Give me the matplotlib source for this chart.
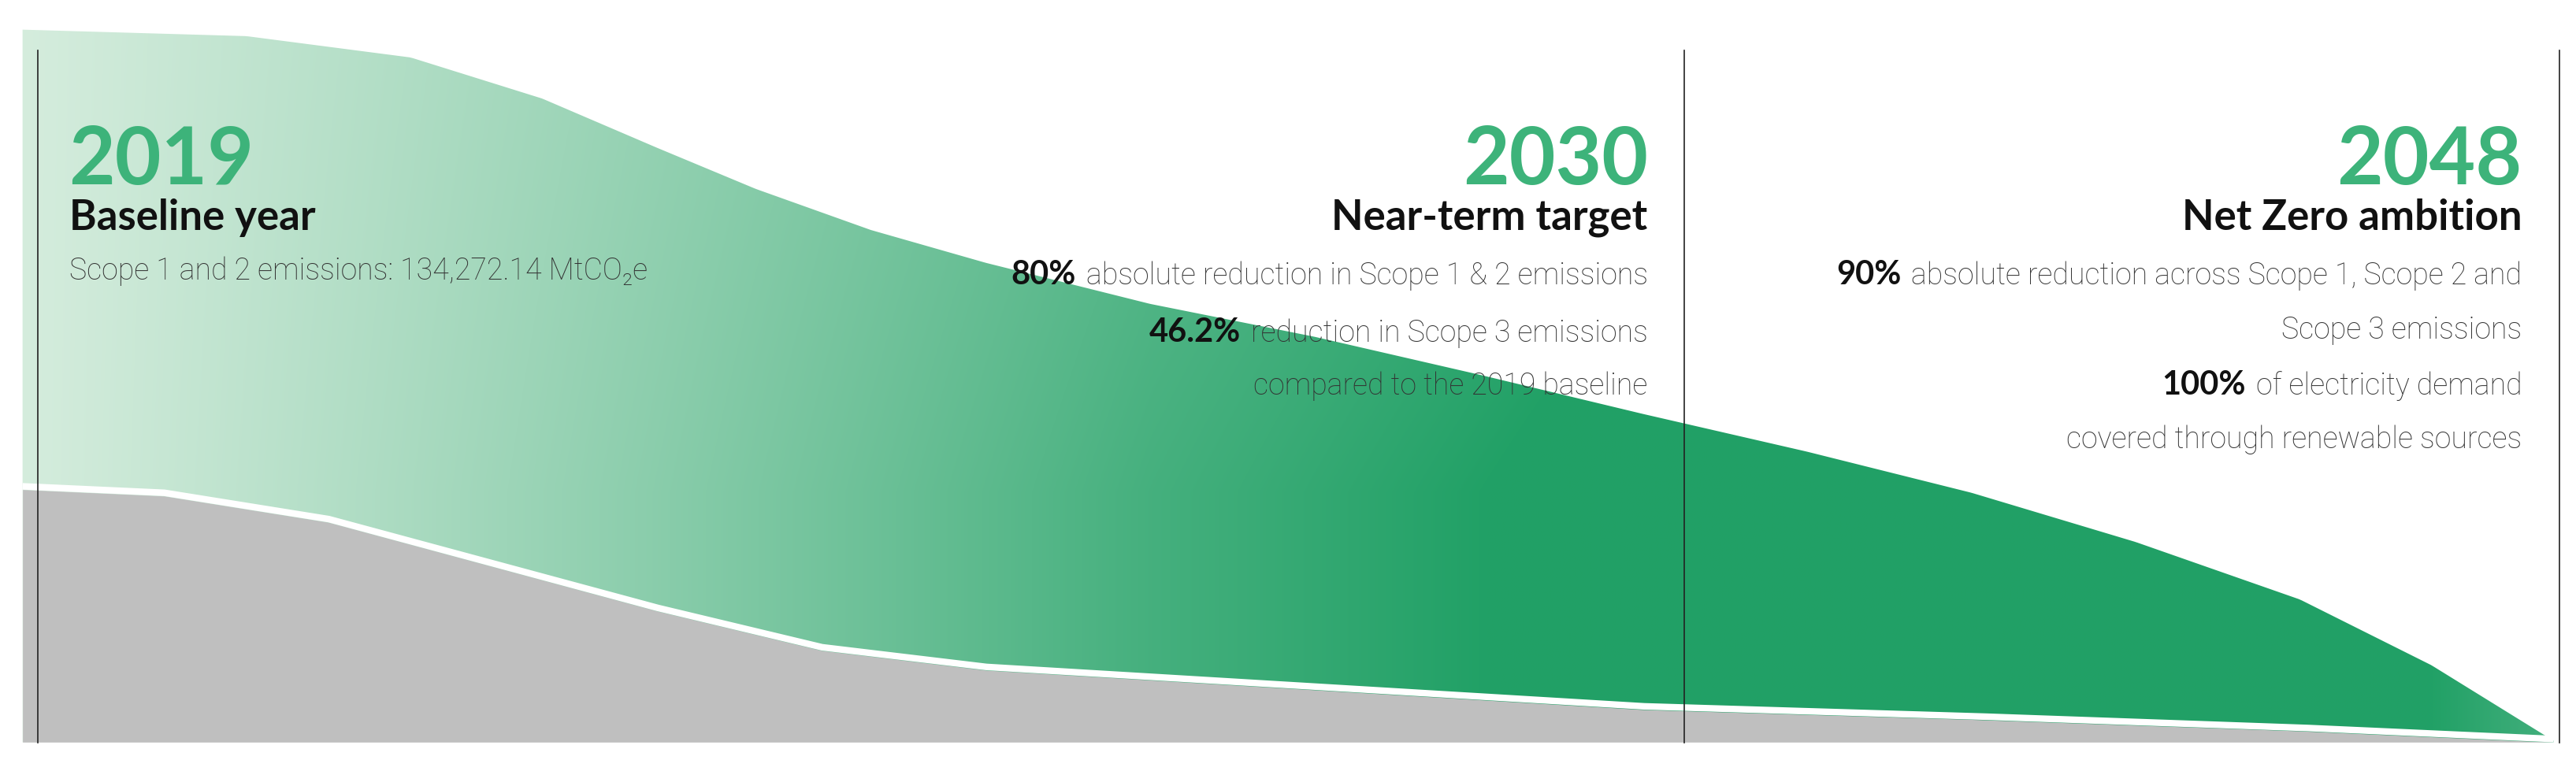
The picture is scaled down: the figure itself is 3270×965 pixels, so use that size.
import numpy as np
import matplotlib
matplotlib.use("Agg")
import matplotlib.pyplot as plt
from matplotlib.patches import Polygon

# ---- data (horizontal position in chart units 0..1568, height above base) ----
total_x = [12, 150, 250, 330, 400, 460, 530, 600, 700, 800, 900, 1000, 1100, 1200, 1300, 1400, 1480, 1556]
total_h = [434, 430, 417, 392, 362, 337, 312, 292, 267, 247, 224, 200, 177, 152, 122, 87, 47, 0]
scope12_x = [12, 100, 200, 300, 400, 500, 600, 800, 1000, 1200, 1400, 1556]
scope12_h = [154, 150, 134, 107, 80, 56, 44, 32, 20, 14, 7, 0]
marker_x = [23, 1025, 1558]

BASE = 452
W, H = 1568, 462.7

fig = plt.figure(figsize=(32.7, 9.65), dpi=100)
ax = fig.add_axes([0, 0, 1, 1])
ax.set_xlim(0, W)
ax.set_ylim(H, 0)
ax.axis("off")

xs = np.linspace(0, W, 800)
top = BASE - np.interp(xs, total_x, total_h)
gtop = BASE - np.interp(xs, scope12_x, scope12_h)

# gradient image for the green area
light = np.array([0.84, 0.93, 0.87])
dark = np.array([0.13, 0.63, 0.40])
gx, gy = np.meshgrid(np.linspace(0, W, 600), np.linspace(0, H, 200))
t = np.clip((gx - 0) / 1150, 0, 1) ** 1.2
t = t * (0.75 + 0.25 * np.clip(gy / 300, 0, 1)) + 0.0
t = np.where(gx > 1380, t * (1 - 0.45 * np.clip((gx - 1380) / 180, 0, 1)), t)
t = np.clip(t + 0.25 * np.clip(gx / 700, 0, 1), 0, 1)
img = light[None, None, :] * (1 - t[..., None]) + dark[None, None, :] * t[..., None]
im = ax.imshow(img, extent=(0, W, H, 0), aspect="auto", zorder=1, interpolation="bilinear")
poly = np.vstack([np.column_stack([xs, top]), np.column_stack([xs[::-1], gtop[::-1]])])
m = (xs >= total_x[0]) & (xs <= total_x[-1])
poly = np.vstack([np.column_stack([xs[m], top[m]]), np.column_stack([xs[m][::-1], np.full(m.sum(), BASE)])])
clip = Polygon(poly, closed=True, transform=ax.transData, facecolor="none", edgecolor="none")
ax.add_patch(clip)
im.set_clip_path(clip)

mg = (xs >= scope12_x[0]) & (xs <= scope12_x[-1])
ax.fill_between(xs[mg], gtop[mg], BASE, color="#bfbfbf", zorder=2, lw=0)
ax.plot(xs[mg], gtop[mg] - 2, color="white", lw=6, zorder=3, solid_capstyle="butt")
ax.fill_between([0, W], BASE, H, color="white", zorder=3)

for mx in marker_x:
    ax.plot([mx, mx], [30.5, BASE], color="#222222", lw=1.2, zorder=4)

GREEN = "#3db37a"
FB = ["Lato", "DejaVu Sans"]
FL = ["Roboto", "DejaVu Sans"]

ax.text(42, 112, "2019", fontsize=73, fontweight="bold", color=GREEN, family=FB, zorder=5)
ax.text(42, 140, "Baseline year", fontsize=38, fontweight="bold", color="#111111", family=FB, zorder=5)
ax.text(42, 170, "Scope 1 and 2 emissions: 134,272.14 MtCO₂e", fontsize=27, fontweight="light",
        color="#333333", family=FL, zorder=5)

fig.canvas.draw()
renderer = fig.canvas.get_renderer()


def rline(xr, y, bold, rest):
    t2 = ax.text(xr, y, rest, fontsize=27, fontweight="light", color="#333333", family=FL,
                 ha="right", zorder=5)
    if bold:
        bb = t2.get_window_extent(renderer=renderer)
        x0 = ax.transData.inverted().transform((bb.x0, 0))[0]
        ax.text(x0 - 6, y, bold, fontsize=30, fontweight="bold", color="#111111", family=FB,
                ha="right", zorder=5)


ax.text(1003, 112, "2030", fontsize=73, fontweight="bold", color=GREEN, family=FB, ha="right", zorder=5)
ax.text(1003, 140, "Near-term target", fontsize=38, fontweight="bold", color="#111111", family=FB, ha="right", zorder=5)
rline(1003, 173, "80%", "absolute reduction in Scope 1 & 2 emissions")
rline(1003, 208, "46.2%", "reduction in Scope 3 emissions")
rline(1003, 240, None, "compared to the 2019 baseline")

ax.text(1535, 112, "2048", fontsize=73, fontweight="bold", color=GREEN, family=FB, ha="right", zorder=5)
ax.text(1535, 140, "Net Zero ambition", fontsize=38, fontweight="bold", color="#111111", family=FB, ha="right", zorder=5)
rline(1535, 173, "90%", "absolute reduction across Scope 1, Scope 2 and")
rline(1535, 206, None, "Scope 3 emissions")
rline(1535, 240, "100%", "of electricity demand")
rline(1535, 273, None, "covered through renewable sources")

fig.savefig("out.png", dpi=100)
